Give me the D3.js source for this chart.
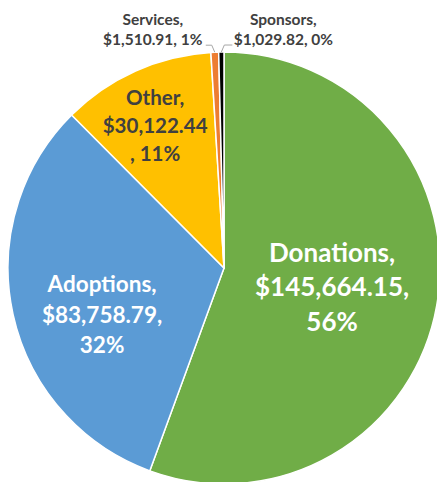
<!DOCTYPE html>
<html><head><meta charset="utf-8">
<script src="https://cdn.jsdelivr.net/npm/d3@7"></script>
<style>html,body{margin:0;padding:0;background:#fff;overflow:hidden}</style>
</head><body><svg id="c" width="437" height="482"></svg>
<script>
// ---- data ----
const categories = ["Donations", "Adoptions", "Other", "Services", "Sponsors"];
const values = [145664.15, 83758.79, 30122.44, 1510.91, 1029.82];
const colors = ["#70AD47", "#5B9BD5", "#FFC000", "#ED7D31", "#000000"];

// ---- layout ----
const W = 437, H = 482;
const cx = 224, cy = 268, R = 216;
const fontFamily = "Lato, 'Open Sans', sans-serif";
const total = d3.sum(values);
const fmtVal = d3.format("$,.2f");
const fmtPct = d3.format(".0%");

const svg = d3.select("#c");
const g = svg.append("g").attr("transform", `translate(${cx},${cy})`);

const pie = d3.pie().sort(null).value(d => d);
const arcs = pie(values);
const arc = d3.arc().innerRadius(0).outerRadius(R);

g.selectAll("path.slice").data(arcs).enter().append("path")
  .attr("class", "slice")
  .attr("d", arc)
  .attr("fill", (d, i) => colors[i])
  .attr("stroke", "#fff")
  .attr("stroke-width", 1.5)
  .attr("stroke-linejoin", "round");

// label text lines
function labelLines(i) {
  const name = categories[i] + ",";
  const v = fmtVal(values[i]);
  const p = fmtPct(values[i] / total);
  if (i === 0 || i === 1) return [name, v + ",", p];
  if (i === 2) return [name, v, ", " + p];
  return [name, v + ", " + p];
}

// inside label placement: fraction of radius along mid-angle + nudge
const inside = {
  0: {k: 0.508, dx: 0, dy: 0, size: 26, lh: 35, fill: "#fff"},
  1: {k: 0.578, dx: 0, dy: 20, size: 22.5, lh: 30.5, fill: "#fff"},
  2: {k: 0.722, dx: -5, dy: 0, size: 20.5, lh: 28, fill: "#404040"}
};

arcs.forEach((a, i) => {
  const lines = labelLines(i);
  if (inside[i]) {
    const c = inside[i];
    const la = d3.arc().innerRadius(R * c.k).outerRadius(R * c.k);
    const [x, y] = la.centroid(a);
    const bx = x + c.dx, by = y + c.dy;
    const t = g.append("text")
      .attr("text-anchor", "middle")
      .attr("font-family", fontFamily)
      .attr("font-weight", "bold")
      .attr("font-size", c.size)
      .attr("fill", c.fill);
    lines.forEach((ln, j) => {
      t.append("tspan").attr("x", bx)
        .attr("y", by - (lines.length - 1) * c.lh / 2 + j * c.lh + 0.36 * c.size)
        .text(ln);
    });
  } else {
    // outside label with leader line
    const ea = d3.arc().innerRadius(R).outerRadius(R);
    const [ex, ey] = ea.centroid(a);
    const side = i === 3 ? -1 : 1;
    const ly = ey - 7;
    const elbowX = ex + side * 3;
    const endX = ex + side * (i === 3 ? 9 : 11);
    g.append("polyline")
      .attr("points", [[ex, ey], [elbowX, ly], [endX, ly]].map(p => p.join(",")).join(" "))
      .attr("fill", "none")
      .attr("stroke", "#A6A6A6")
      .attr("stroke-width", 1);
    const tx = ex + side * 62;
    const t = g.append("text")
      .attr("text-anchor", "middle")
      .attr("font-family", fontFamily)
      .attr("font-weight", "bold")
      .attr("font-size", 15.5)
      .attr("fill", "#404040");
    lines.forEach((ln, j) => {
      t.append("tspan").attr("x", tx).attr("y", ey - 27 + j * 20).text(ln);
    });
  }
});
</script>
</body></html>
